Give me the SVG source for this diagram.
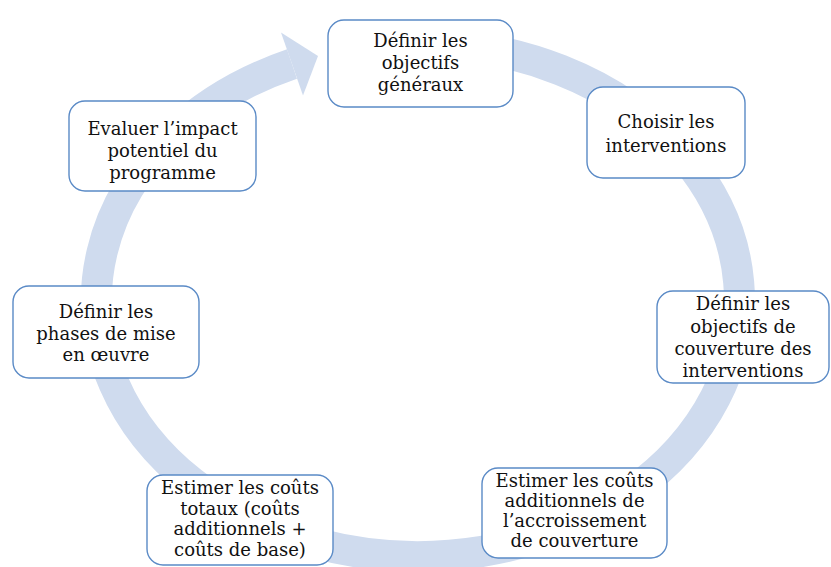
<svg xmlns="http://www.w3.org/2000/svg" width="831" height="567" viewBox="0 0 831 567">
<style>
.box{fill:#ffffff;stroke:#5A8AC6;stroke-width:1.4}
.t{font-family:"DejaVu Serif","Liberation Serif",serif;font-size:18px;fill:#111111;text-anchor:middle}
.ring{fill:none;stroke:#CFDBEE;stroke-width:31}
</style>
<rect width="831" height="567" fill="#ffffff"/>
<g id="connectors">
<path class="ring" d="M 418 43.5 A 321.5 256.5 0 1 1 292 64"/>
<polygon points="281,32.5 318,56 303,95.5" fill="#CFDBEE"/>
</g>
<g id="n1">
<rect class="box" x="328" y="20" width="185" height="87" rx="16"/>
<text class="t" x="420.5" y="47">Définir les</text>
<text class="t" x="420.5" y="69">objectifs</text>
<text class="t" x="420.5" y="91">généraux</text>
</g>
<g id="n2">
<rect class="box" x="587" y="87" width="158" height="91" rx="16"/>
<text class="t" x="666" y="128">Choisir les</text>
<text class="t" x="666" y="152">interventions</text>
</g>
<g id="n3">
<rect class="box" x="657" y="291" width="172" height="92" rx="16"/>
<text class="t" x="743" y="310">Définir les</text>
<text class="t" x="743" y="333">objectifs de</text>
<text class="t" x="743" y="355">couverture des</text>
<text class="t" x="743" y="377">interventions</text>
</g>
<g id="n4">
<rect class="box" x="482" y="468" width="185" height="90" rx="16"/>
<text class="t" x="574.5" y="487">Estimer les coûts</text>
<text class="t" x="574.5" y="507">additionnels de</text>
<text class="t" x="574.5" y="527">l’accroissement</text>
<text class="t" x="574.5" y="547">de couverture</text>
</g>
<g id="n5">
<rect class="box" x="147" y="475" width="186" height="90" rx="16"/>
<text class="t" x="240" y="494">Estimer les coûts</text>
<text class="t" x="240" y="515">totaux (coûts</text>
<text class="t" x="240" y="535">additionnels +</text>
<text class="t" x="240" y="556">coûts de base)</text>
</g>
<g id="n6">
<rect class="box" x="13" y="286" width="186" height="92" rx="16"/>
<text class="t" x="106" y="318">Définir les</text>
<text class="t" x="106" y="340">phases de mise</text>
<text class="t" x="106" y="361">en œuvre</text>
</g>
<g id="n7">
<rect class="box" x="69" y="101" width="187" height="90" rx="16"/>
<text class="t" x="162.5" y="135">Evaluer l’impact</text>
<text class="t" x="162.5" y="157">potentiel du</text>
<text class="t" x="162.5" y="179">programme</text>
</g>
</svg>
